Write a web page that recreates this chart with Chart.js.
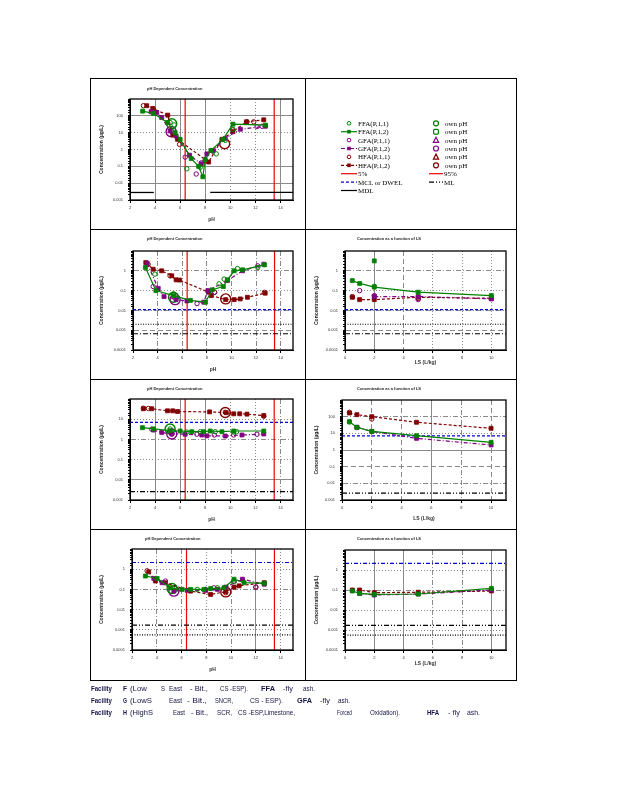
<!DOCTYPE html>
<html>
<head>
<meta charset="utf-8">
<title>Leaching concentrations - fly ash</title>
<script src="https://cdn.jsdelivr.net/npm/chart.js@4.4.1/dist/chart.umd.min.js"></script>
<style>
  html, body { margin: 0; padding: 0; background: #fff; }
  body { position: relative; width: 618px; height: 800px; overflow: hidden; }
  .cell { position: absolute; border: 1px solid #000; box-sizing: border-box; }
  canvas, svg { position: absolute; }
</style>
</head>
<body>
<script>
// ---- values: [pH or L/S, concentration] ----

// row 1, pH dependent
const aFFA1 = [[5.2,40],[5.52,29],[6.53,0.072],[7.6,0.087],[8.88,0.55],[9.6,3.5],[10.21,16]];
const aFFA2 = [[3.01,190],[3.87,138],[4.99,40],[5.6,10],[6.0,4],[6.88,0.29],[7.47,0.1],[7.81,0.024],[8.0,0.25],[8.45,0.87],[9.41,4],[10.21,32],[12.8,28]];
const aGFA1 = [[5.33,11.5],[6.4,0.35],[7.28,0.035],[7.68,0.16],[8.61,0.8],[12.13,23],[12.53,24]];
const aGFA2 = [[3.68,174],[4.13,158],[4.53,79],[5.2,12.6],[5.68,6.3],[6.75,0.46],[7.68,0.14],[8.13,0.55],[8.61,0.87],[9.6,4.6],[10.8,16],[12.8,24]];
const aHFA1 = [[3.07,400],[3.87,250],[5.95,2],[8.0,0.22],[10.2,14.5],[11.33,44],[11.87,44]];
const aHFA2 = [[3.33,400],[3.81,275],[5.01,110],[5.41,7.2],[5.79,4],[8.27,0.18],[9.33,4],[10.21,11.5],[11.28,44],[12.67,58]];
const aOwn = [[5.33,34],[5.28,11.5],[9.55,2.2]];          // FFA, GFA, HFA

// row 2, pH dependent
const bFFA1 = [[3.78,0.68],[5.29,0.068],[8.99,0.22],[9.4,0.38],[10.49,1.3],[12.14,1.47]];
const bFFA2 = [[3.01,1.47],[3.86,0.1],[5.29,0.056],[6.66,0.032],[7.89,0.026],[8.44,0.11],[9.34,0.16],[9.67,0.35],[10.22,1.0],[10.9,1.12],[12.68,2.0]];
const bGFA1 = [[3.64,0.16],[7.2,0.022],[8.63,0.082],[12.14,1.78]];
const bGFA2 = [[3.15,2.4],[4.05,0.13],[4.52,0.05],[5.5,0.035],[6.38,0.03],[7.75,0.026],[8.08,0.1],[9.67,0.32],[10.9,1.0],[12.63,2.15]];
const bHFA1 = [[3.23,2.15],[5.01,0.56],[8.63,0.082],[12.68,0.082]];
const bHFA2 = [[3.04,2.6],[3.64,1.2],[4.33,1.0],[5.15,0.56],[5.5,0.35],[5.78,0.34],[8.16,0.083],[8.36,0.056],[9.53,0.035],[10.22,0.035],[10.71,0.038],[11.3,0.046],[12.74,0.074]];
const bOwn = [[5.29,0.046],[5.42,0.035],[9.53,0.038]];

// row 2, L/S
const cFFA1 = [[2,0.165]];
const cFFA2 = [[0.5,0.32],[1,0.23],[2,0.15],[5,0.083],[10,0.056]];
const cFFAextra = [[2,3.16]];
const cGFA1 = [[1,0.1],[2,0.056],[5,0.035]];
const cGFA2 = [[2,0.05],[5,0.05],[10,0.038]];
const cHFA1 = [[0.5,0.05],[5,0.04]];
const cHFA2 = [[0.5,0.046],[1,0.035],[2,0.035],[5,0.046],[10,0.041]];

// row 3, pH dependent
const dFFA1 = [[5.2,3.3],[6.53,2.3],[7.6,2.4],[8.8,2.4],[10.27,2.3],[10.5,2.4]];
const dFFA2 = [[2.99,3.8],[3.87,3.3],[5.2,2.7],[6.0,2.6],[6.93,2.4],[7.87,2.4],[8.4,2.6],[9.33,2.4],[10.27,2.6],[12.67,2.6]];
const dGFA1 = [[3.73,3.2],[5.33,1.8],[7.33,1.8],[8.72,1.65],[10.27,1.65],[12.13,1.8]];
const dGFA2 = [[3.87,2.9],[4.53,2.2],[5.33,1.9],[6.4,1.8],[7.73,1.65],[8.13,1.5],[9.6,1.47],[10.93,1.65],[12.67,1.85]];
const dHFA1 = [[3.07,35],[3.47,34],[9.6,22],[12.67,14]];
const dHFA2 = [[3.07,33],[3.73,33],[4.99,26],[5.41,26],[5.79,24],[8.35,23],[9.68,21],[10.27,18.5],[10.75,18.5],[11.33,17.8],[12.67,15.2]];
const dOwn = [[5.2,3.3],[5.33,1.85],[9.6,21.5]];

// row 3, L/S
const eFFA1 = [[0.5,48]];
const eFFA2 = [[0.5,50],[1,23],[2,13],[5,7.2],[10,2.9]];
const eGFA1 = [[1,22]];
const eGFA2 = [[1,23],[2,13],[5,5],[10,2]];
const eHFA1 = [[0.5,182],[2,72]];
const eHFA2 = [[0.5,166],[1,132],[2,100],[5,46],[10,20]];

// row 4, pH dependent
const fFFA1 = [[5.24,0.12],[7.27,0.1],[8.9,0.12],[10.24,0.24]];
const fFFA2 = [[3.08,0.46],[4.03,0.35],[5.11,0.12],[6.05,0.1],[6.73,0.1],[7.81,0.1],[8.35,0.11],[9.43,0.12],[10.24,0.32],[11.05,0.215],[12.68,0.2]];
const fGFA1 = [[4.7,0.26],[7.95,0.1],[8.62,0.12],[10.24,0.26],[12,0.13]];
const fGFA2 = [[3.76,0.35],[4.43,0.215],[5.38,0.082],[6.46,0.089],[7.95,0.089],[8.9,0.1],[9.57,0.13],[10.92,0.32],[12.68,0.18]];
const fHFA1 = [[3.22,0.83],[9.57,0.068],[12,0.13]];
const fHFA2 = [[3.35,0.74],[3.89,0.26],[4.7,0.215],[6.73,0.082],[8.35,0.056],[9.57,0.077],[10.24,0.13],[10.65,0.15],[12.68,0.215]];
const fOwn = [[5.24,0.11],[5.38,0.082],[9.57,0.075]];

// row 4, L/S
const gFFA2 = [[0.5,0.089],[1,0.068],[2,0.06],[5,0.063],[10,0.12]];
const gGFA2 = [[1,0.068],[2,0.056],[5,0.063],[10,0.1]];
const gHFA2 = [[0.5,0.1],[1,0.1],[2,0.074],[5,0.077],[10,0.089]];

// reference levels
const pctPH = [6.4, 13.5];                 // 5% and 95% pH
const mdlA = 0.0028;
const mdlSpansA = [[2, 3.9], [8.4, 15]];
const mclB = 0.011, dotB = 0.002, mlB = 0.00066;
const mclD = 7, mlD = 0.0026;
const mclF = 2.15, mlF = 0.0017, dotF = 0.00056;

// axis ranges
const pHRange = [2, 15];
const lsRange = [0, 11];

// ---- styling ----
const GREEN = '#008000', PURPLE = '#800080', DRED = '#800000', RED = '#ee0000', BLUE = '#0000dd';
const GRID = '#8a8a8a';
const DASH = { s: [], d: [1, 2], a: [5, 2, 1, 2], l: [5, 3], m: [5, 2, 1, 2, 1, 2] };
Chart.defaults.font.family = '"Liberation Sans", Arial, sans-serif';

const xy = a => a.map(p => ({ x: p[0], y: p[1] }));

function openPts(d, color) {
  return { data: xy(d), showLine: false, pointStyle: 'circle', pointRadius: 2.2,
    pointBorderWidth: 1, pointBorderColor: color, pointBackgroundColor: 'rgba(255,255,255,0)' };
}
function filledPts(d, color) {
  return { data: xy(d), showLine: false, pointStyle: 'rect', pointRadius: 2.8,
    pointBorderWidth: 0.8, pointBorderColor: color, pointBackgroundColor: color };
}
function linePts(d, color, dash) {
  return { data: xy(d), showLine: true, borderColor: color, borderWidth: 1.2, borderDash: dash,
    pointStyle: 'rect', pointRadius: 2.8, pointBorderWidth: 0.8, pointBorderColor: color, pointBackgroundColor: color };
}
function ownPts(p, color) {
  return { data: xy([p]), showLine: false, pointStyle: 'circle', pointRadius: 5,
    pointBorderWidth: 1.4, pointBorderColor: color, pointBackgroundColor: 'rgba(255,255,255,0)' };
}
function hLine(v, xr, color, dash, w) {
  return { data: [{ x: xr[0], y: v }, { x: xr[1], y: v }], showLine: true, pointRadius: 0,
    borderColor: color, borderDash: dash, borderWidth: w || 1.2 };
}
function vLine(v, yr, color) {
  return { data: [{ x: v, y: yr[0] }, { x: v, y: yr[1] }], showLine: true, pointRadius: 0,
    borderColor: color, borderWidth: 1.2 };
}
function phSets(f1, f2, g1, g2, h1, h2, own) {
  return [
    openPts(f1, GREEN), linePts(f2, GREEN, []),
    openPts(g1, PURPLE), linePts(g2, PURPLE, [4, 2, 1, 2]),
    openPts(h1, DRED), linePts(h2, DRED, [3, 2]),
    ownPts(own[0], GREEN), ownPts(own[1], PURPLE), ownPts(own[2], DRED)
  ];
}

const yA = [1e-3, 1e3], yB = [1e-4, 10], yD = [1e-3, 100], yE = [1e-3, 1e3], yF = [1e-4, 10];
const leftTitle = 'pH Dependent Concentration';
const rightTitle = 'Concentration as a function of LS';

const panels = [
  { box: [90, 78, 216, 152], area: [130, 99, 293, 200], x: pHRange, y: yA, xTitle: 'pH', xPad: 7,
    title: leftTitle, tdx: 17, ty: 11,
    xGrid: { 4: 's', 6: 's', 8: 's', 10: 'd', 12: 'd', 14: 's' },
    yGrid: { '-2': 's', '-1': 's', '0': 'd', '1': 'd', '2': 's' },
    sets: phSets(aFFA1, aFFA2, aGFA1, aGFA2, aHFA1, aHFA2, aOwn)
      .concat(mdlSpansA.map(s => hLine(mdlA, s, '#000', [], 1.3)))
      .concat(pctPH.map(v => vLine(v, yA, RED))) },
  { box: [90, 229, 216, 151], area: [133, 251, 293, 350], x: pHRange, y: yB, xTitle: 'pH', xPad: 7,
    title: leftTitle, tdx: 14, ty: 10,
    xGrid: { 4: 'a', 6: 'a', 8: 'a', 10: 'a', 12: 'a', 14: 'a' },
    yGrid: { '-3': 'l', '-2': 'a', '-1': 'd', '0': 'a' },
    sets: phSets(bFFA1, bFFA2, bGFA1, bGFA2, bHFA1, bHFA2, bOwn)
      .concat([hLine(mclB, pHRange, BLUE, [3, 2]), hLine(dotB, pHRange, '#000', [1, 1.5]), hLine(mlB, pHRange, '#000', [5, 2, 1, 2])])
      .concat(pctPH.map(v => vLine(v, yB, RED))) },
  { box: [305, 229, 212, 151], area: [345, 251, 506, 350], x: lsRange, y: yB, xTitle: 'LS (L/kg)', xPad: 14,
    title: rightTitle, tdx: 12, ty: 10,
    xGrid: { 2: 's', 4: 'l', 6: 'd', 8: 'd', 10: 'd' },
    yGrid: { '-3': 'l', '-2': 'a', '-1': 'd', '0': 'a' },
    sets: [openPts(cFFA1, GREEN), linePts(cFFA2, GREEN, []), filledPts(cFFAextra, GREEN),
      openPts(cGFA1, PURPLE), linePts(cGFA2, PURPLE, [4, 2, 1, 2]),
      openPts(cHFA1, DRED), linePts(cHFA2, DRED, [3, 2]),
      hLine(mclB, lsRange, BLUE, [3, 2]), hLine(dotB, lsRange, '#000', [1, 1.5]), hLine(mlB, lsRange, '#000', [5, 2, 1, 2])] },
  { box: [90, 379, 216, 151], area: [130, 399, 293, 500], x: pHRange, y: yD, xTitle: 'pH', xPad: 7,
    title: leftTitle, tdx: 17, ty: 10,
    xGrid: { 4: 's', 6: 's', 8: 's', 10: 'd', 12: 'd', 14: 'a' },
    yGrid: { '-2': 's', '-1': 'd', '0': 'a', '1': 'd' },
    sets: phSets(dFFA1, dFFA2, dGFA1, dGFA2, dHFA1, dHFA2, dOwn)
      .concat([hLine(mclD, pHRange, BLUE, [3, 2]), hLine(mlD, pHRange, '#000', [5, 2, 1, 2])])
      .concat(pctPH.map(v => vLine(v, yD, RED))) },
  { box: [305, 379, 212, 151], area: [342, 400, 506, 500], x: lsRange, y: yE, xTitle: 'LS (L/kg)', xPad: 8,
    title: rightTitle, tdx: 15, ty: 10,
    xGrid: { 2: 'l', 4: 'l', 6: 's', 8: 'a', 10: 'l' },
    yGrid: { '-2': 'a', '-1': 'l', '0': 's', '1': 'd', '2': 'a' },
    sets: [openPts(eFFA1, GREEN), linePts(eFFA2, GREEN, []),
      openPts(eGFA1, PURPLE), linePts(eGFA2, PURPLE, [4, 2, 1, 2]),
      openPts(eHFA1, DRED), linePts(eHFA2, DRED, [3, 2]),
      hLine(mclD, lsRange, BLUE, [3, 2]), hLine(mlD, lsRange, '#000', [5, 2, 1, 2, 1, 2])] },
  { box: [90, 529, 216, 152], area: [132, 549, 293, 650], x: pHRange, y: yF, xTitle: 'pH', xPad: 8,
    title: leftTitle, tdx: 13, ty: 10,
    xGrid: { 4: 'a', 6: 'a', 8: 'd', 10: 'a', 12: 's', 14: 'd' },
    yGrid: { '-3': 'd', '-2': 'd', '-1': 'a', '0': 'd' },
    sets: phSets(fFFA1, fFFA2, fGFA1, fGFA2, fHFA1, fHFA2, fOwn)
      .concat([hLine(mclF, pHRange, BLUE, [4, 2, 1, 2]), hLine(mlF, pHRange, '#000', [5, 2, 1, 2, 1, 2]), hLine(dotF, pHRange, '#000', [1, 1.5])])
      .concat(pctPH.map(v => vLine(v, yF, RED))) },
  { box: [305, 529, 212, 152], area: [345, 550, 506, 650], x: lsRange, y: yF, xTitle: 'LS (L/kg)', xPad: 14,
    title: rightTitle, tdx: 12, ty: 10,
    xGrid: { 2: 's', 4: 's', 6: 'a', 8: 'a', 10: 's' },
    yGrid: { '-3': 'd', '-2': 'd', '-1': 'a', '0': 'd' },
    sets: [linePts(gFFA2, GREEN, []), linePts(gGFA2, PURPLE, [4, 2, 1, 2]), linePts(gHFA2, DRED, [3, 2]),
      hLine(mclF, lsRange, BLUE, [4, 2, 1, 2]), hLine(mlF, lsRange, '#000', [5, 2, 1, 2, 1, 2]), hLine(dotF, lsRange, '#000', [1, 1.5])] }
];

// ---- cell frames ----
const cells = [[90,78,216,152],[305,78,212,152],[90,229,216,151],[305,229,212,151],
               [90,379,216,151],[305,379,212,151],[90,529,216,152],[305,529,212,152]];
cells.forEach(c => {
  const d = document.createElement('div');
  d.className = 'cell';
  d.style.cssText = `left:${c[0]}px;top:${c[1]}px;width:${c[2]}px;height:${c[3]}px`;
  document.body.appendChild(d);
});

const framePlugin = {
  id: 'frame',
  afterDraw(chart) {
    const { ctx, chartArea: a } = chart;
    ctx.save();
    ctx.strokeStyle = '#000';
    ctx.lineWidth = 1.3;
    ctx.strokeRect(a.left, a.top, a.right - a.left, a.bottom - a.top);
    ctx.restore();
  }
};
const titlePlugin = {
  id: 'panelTitle',
  afterDraw(chart, args, o) {
    const { ctx, chartArea } = chart;
    ctx.save();
    ctx.font = o.css;
    ctx.fillStyle = '#222';
    ctx.textBaseline = 'middle';
    ctx.fillText(o.text, chartArea.left + o.dx, o.y);
    ctx.restore();
  }
};

const decade = v => {
  const e = Math.log10(v);
  return Math.abs(e - Math.round(e)) < 1e-6 ? String(Math.round(e)) : null;
};

panels.forEach(p => {
  const [bx, by, bw, bh] = p.box;
  const [L, T, R, B] = p.area;
  const cv = document.createElement('canvas');
  cv.width = bw; cv.height = bh;
  cv.style.cssText = `left:${bx}px;top:${by}px;width:${bw}px;height:${bh}px`;
  document.body.appendChild(cv);

  new Chart(cv, {
    type: 'scatter',
    data: { datasets: p.sets },
    options: {
      responsive: false,
      animation: false,
      events: [],
      layout: { padding: { left: 0, top: T - by, right: bx + bw - R, bottom: 0 } },
      plugins: {
        legend: { display: false },
        tooltip: { enabled: false },
        panelTitle: { text: p.title, dx: p.tdx, y: p.ty,
          css: 'bold 4px "Liberation Sans Narrow", "Liberation Sans", Arial, sans-serif' }
      },
      scales: {
        x: {
          type: 'linear', min: p.x[0], max: p.x[1],
          afterFit(s) { s.height = by + bh - B; },
          ticks: { stepSize: 2, includeBounds: false, autoSkip: false, maxRotation: 0,
            padding: 2, color: '#333', font: { size: 4 }, callback: v => String(v) },
          grid: { color: c => (c.tick && p.xGrid[c.tick.value]) ? GRID : 'rgba(0,0,0,0)',
            tickLength: 3, tickColor: '#000', lineWidth: 1 },
          border: { display: true, color: '#000', width: 1,
            dash: c => (c.tick && p.xGrid[c.tick.value]) ? DASH[p.xGrid[c.tick.value]] : [] },
          title: { display: true, text: p.xTitle, color: '#333',
            font: { size: 5, weight: 'bold' }, padding: { top: 0, bottom: p.xPad } }
        },
        y: {
          type: 'logarithmic', min: p.y[0], max: p.y[1],
          afterFit(s) { s.width = L - bx; },
          ticks: { autoSkip: false, padding: 5, color: '#333', font: { size: 4 },
            callback: v => (decade(v) !== null && v < p.y[1]) ? String(v) : '' },
          grid: { color: c => (c.tick && p.yGrid[decade(c.tick.value)]) ? GRID : 'rgba(0,0,0,0)',
            tickLength: 2, tickColor: '#000', lineWidth: 1 },
          border: { display: true, color: '#000', width: 1,
            dash: c => (c.tick && p.yGrid[decade(c.tick.value)]) ? DASH[p.yGrid[decade(c.tick.value)]] : [] },
          title: { display: true, text: 'Concentration (µg/L)', color: '#222',
            font: { size: 5, weight: 'bold' }, padding: { top: 9, bottom: 0 } }
        }
      }
    },
    plugins: [framePlugin, titlePlugin]
  });
});

// ---- legend cell (top right) ----
const NS = 'http://www.w3.org/2000/svg';
function el(name, attrs, parent) {
  const e = document.createElementNS(NS, name);
  Object.keys(attrs).forEach(k => e.setAttribute(k, attrs[k]));
  parent.appendChild(e);
  return e;
}
const legendLeft = [
  { text: 'FFA(P,1,1)', color: GREEN, mark: 'open' },
  { text: 'FFA(P,1,2)', color: GREEN, mark: 'fill', dash: '' },
  { text: 'GFA(P,1,1)', color: PURPLE, mark: 'open' },
  { text: 'GFA(P,1,2)', color: PURPLE, mark: 'fill', dash: '4 2 1 2' },
  { text: 'HFA(P,1,1)', color: DRED, mark: 'open' },
  { text: 'HFA(P,1,2)', color: DRED, mark: 'fill', dash: '3 2' },
  { text: '5%', color: RED, dash: '' },
  { text: 'MCL or DWEL', color: BLUE, dash: '3 2' },
  { text: 'MDL', color: '#000', dash: '' }
];
const legendRight = [
  { text: 'own pH', color: GREEN, mark: 'circle' },
  { text: 'own pH', color: GREEN, mark: 'square' },
  { text: 'own pH', color: PURPLE, mark: 'triangle' },
  { text: 'own pH', color: PURPLE, mark: 'circle' },
  { text: 'own pH', color: DRED, mark: 'triangle' },
  { text: 'own pH', color: DRED, mark: 'circle' },
  { text: '95%', color: RED, dash: '' },
  { text: 'ML', color: '#000', dash: '5 2 1 2 1 2' }
];
const lg = el('svg', { width: 212, height: 152, style: 'left:305px;top:78px' }, document.body);
const rowY = i => 45.3 + i * 8.4;
const txt = (x, y, s) => {
  const t = el('text', { x, y: y + 2.4, 'font-family': '"Liberation Serif", "Times New Roman", serif',
    'font-size': 7, fill: '#000' }, lg);
  t.textContent = s;
};
legendLeft.forEach((it, i) => {
  const y = rowY(i);
  if (it.dash !== undefined) {
    el('line', { x1: 36, x2: 52, y1: y, y2: y, stroke: it.color, 'stroke-width': 1.2,
      'stroke-dasharray': it.dash || 'none' }, lg);
  }
  if (it.mark === 'open') el('circle', { cx: 44, cy: y, r: 1.8, fill: 'none', stroke: it.color, 'stroke-width': 1 }, lg);
  if (it.mark === 'fill') el('rect', { x: 42.2, y: y - 1.8, width: 3.6, height: 3.6, fill: it.color }, lg);
  txt(53, y, it.text);
});
legendRight.forEach((it, i) => {
  const y = rowY(i);
  if (it.dash !== undefined) {
    el('line', { x1: 124, x2: 138, y1: y, y2: y, stroke: it.color, 'stroke-width': 1.2,
      'stroke-dasharray': it.dash || 'none' }, lg);
    txt(139, y, it.text);
    return;
  }
  const st = { fill: 'none', stroke: it.color, 'stroke-width': 1.2 };
  if (it.mark === 'circle') el('circle', Object.assign({ cx: 131, cy: y, r: 2.5 }, st), lg);
  if (it.mark === 'square') el('rect', Object.assign({ x: 128.6, y: y - 2.4, width: 4.8, height: 4.8, rx: 1 }, st), lg);
  if (it.mark === 'triangle') el('polygon', Object.assign({ points: `131,${y - 2.8} 133.6,${y + 2.2} 128.4,${y + 2.2}` }, st), lg);
  txt(140, y, it.text);
});

// ---- footnote ----
const footLines = [
  [[91,21,'Facility',1],[123,4,'F',1],[130,17,'(Low'],[161,4,'S'],[169,13,'East'],[190,18,'- Bit.,'],
   [220,28,'CS -ESP).'],[261,14,'FFA',1],[283,10,'-fly'],[303,12,'ash.']],
  [[91,21,'Facility',1],[123,4,'G',1],[130,22,'(LowS'],[169,13,'East'],[187,20,'- Bit.,'],[215,18,'SNCR,'],
   [250,33,'CS - ESP).'],[297,15,'GFA',1],[320,10,'-fly'],[338,12,'ash.']],
  [[91,21,'Facility',1],[123,4,'H',1],[130,23,'(HighS'],[173,12,'East'],[191,17,'- Bit.,'],[217,15,'SCR,'],
   [238,57,'CS -ESP,Limestone,'],[337,15,'Forced'],[370,30,'Oxidation).'],[427,12,'HFA',1],[448,12,'- fly'],[467,13,'ash.']]
];
const ft = el('svg', { width: 618, height: 50, style: 'left:0;top:680px' }, document.body);
footLines.forEach((line, li) => {
  const y = 10.5 + li * 12;
  line.forEach(seg => {
    const t = el('text', { x: seg[0], y, textLength: seg[1], lengthAdjust: 'spacingAndGlyphs',
      'font-family': '"Liberation Sans Narrow", "Liberation Sans", Arial, sans-serif', 'font-size': 7,
      'font-weight': seg[3] ? 'bold' : 'normal', fill: '#141446' }, ft);
    t.textContent = seg[2];
  });
});
</script>
</body>
</html>
